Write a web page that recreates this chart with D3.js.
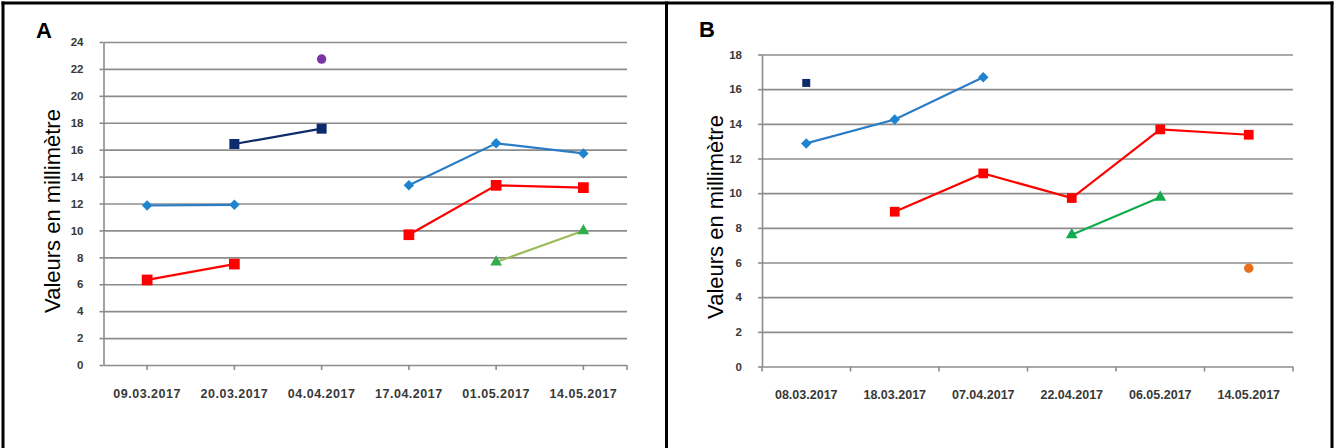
<!DOCTYPE html>
<html>
<head>
<meta charset="utf-8">
<script src="https://cdn.jsdelivr.net/npm/d3@7/dist/d3.min.js"></script>
<style>
  html, body { margin: 0; padding: 0; background: #fff; }
  svg { display: block; }
</style>
</head>
<body>
<svg id="chart" width="1339" height="448"></svg>
<script>
// ---- Panel A data ----
const datesA = ["09.03.2017", "20.03.2017", "04.04.2017", "17.04.2017", "01.05.2017", "14.05.2017"];
const yTicksA = [0, 2, 4, 6, 8, 10, 12, 14, 16, 18, 20, 22, 24];
const blueA   = [11.85, 11.9, null, 13.35, 16.47, 15.72];
const redA    = [6.32, 7.5, null, 9.68, 13.35, 13.18];
const navyA   = [null, 16.42, 17.56, null, null, null];
const purpleA = [null, null, 22.73, null, null, null];
const greenA  = [null, null, null, null, 7.65, 9.97];

// ---- Panel B data ----
const datesB = ["08.03.2017", "18.03.2017", "07.04.2017", "22.04.2017", "06.05.2017", "14.05.2017"];
const yTicksB = [0, 2, 4, 6, 8, 10, 12, 14, 16, 18];
const blueB   = [12.87, 14.25, 16.69, null, null, null];
const redB    = [null, 8.93, 11.14, 9.72, 13.68, 13.37];
const navyB   = [16.36, null, null, null, null, null];
const greenB  = [null, null, null, 7.6, 9.76, null];
const orangeB = [null, null, null, null, null, 5.67];

const yTitle = "Valeurs en millimètre";

const svg = d3.select("#chart");
const gridColor = "#8c8c8c";
const tickText = "#383838";

// Outer frame and divider between the two panels
const frame = svg.append("g").attr("stroke", "#000").attr("stroke-width", 3);
frame.append("line").attr("x1", 1.5).attr("x2", 1333.5).attr("y1", 3).attr("y2", 3);
frame.append("line").attr("x1", 3).attr("x2", 3).attr("y1", 1.5).attr("y2", 448);
frame.append("line").attr("x1", 1332).attr("x2", 1332).attr("y1", 1.5).attr("y2", 448);
frame.append("line").attr("x1", 666.5).attr("x2", 666.5).attr("y1", 1.5).attr("y2", 448);

// marker shapes: "diamond" is a square turned 45 degrees
function markerPath(shape, size) {
  if (shape === "diamond") return d3.symbol().type(d3.symbolSquare).size(size)();
  const t = { square: d3.symbolSquare, circle: d3.symbolCircle, triangle: d3.symbolTriangle }[shape];
  return d3.symbol().type(t).size(size)();
}

function drawPanel(cfg) {
  const x = d3.scaleBand().domain(cfg.dates).range([cfg.left, cfg.right]);
  const y = d3.scaleLinear().domain([0, d3.max(cfg.yTicks)]).range([cfg.bottom, cfg.top]);
  const g = svg.append("g");
  const w = cfg.right - cfg.left;

  // horizontal gridlines
  const grid = g.append("g")
    .attr("transform", `translate(${cfg.left},0)`)
    .call(d3.axisLeft(y).tickValues(cfg.yTicks).tickSize(-w).tickFormat(""));
  grid.select(".domain").remove();
  grid.selectAll("line").attr("stroke", gridColor).attr("stroke-width", 1.6);

  // y axis with outward stubs and labels
  const ya = g.append("g")
    .attr("transform", `translate(${cfg.left},0)`)
    .call(d3.axisLeft(y).tickValues(cfg.yTicks).tickSize(4).tickPadding(16).tickSizeOuter(0));
  ya.select(".domain").attr("stroke", gridColor).attr("stroke-width", 1.6);
  ya.selectAll("line").attr("stroke", gridColor).attr("stroke-width", 1.6);
  ya.selectAll("text")
    .attr("fill", tickText)
    .style("font", "bold 11.5px 'Liberation Sans', Arial, sans-serif");

  // x axis labels
  const xa = g.append("g")
    .attr("transform", `translate(0,${cfg.bottom})`)
    .call(d3.axisBottom(x).tickSize(0).tickPadding(24));
  xa.select(".domain").remove();
  xa.selectAll("text")
    .attr("fill", tickText)
    .style("font", "bold 12.5px 'Liberation Sans', Arial, sans-serif")
    .style("letter-spacing", cfg.labelSpacing + "px");

  // x tick marks: at category centres (A) or at category boundaries (B)
  let tickPos;
  if (cfg.centerTicks) {
    tickPos = cfg.dates.map(d => x(d) + x.bandwidth() / 2).concat([cfg.right]);
  } else {
    tickPos = cfg.dates.map(d => x(d)).concat([cfg.right]);
  }
  g.append("g").selectAll("line").data(tickPos).join("line")
    .attr("x1", d => d).attr("x2", d => d)
    .attr("y1", cfg.bottom).attr("y2", cfg.bottom + 5)
    .attr("stroke", gridColor).attr("stroke-width", 1.6);

  const cx = d => x(d) + x.bandwidth() / 2;

  // series
  cfg.series.forEach(s => {
    const pts = cfg.dates.map((d, i) => ({ d, v: s.values[i] }));
    const line = d3.line()
      .defined(p => p.v != null)
      .x(p => cx(p.d))
      .y(p => y(p.v));
    if (s.lineColor) {
      g.append("path")
        .datum(pts)
        .attr("fill", "none")
        .attr("stroke", s.lineColor)
        .attr("stroke-width", 2.2)
        .attr("d", line);
    }
    const rot = s.shape === "diamond" ? " rotate(45)" : "";
    g.append("g").selectAll("path")
      .data(pts.filter(p => p.v != null))
      .join("path")
      .attr("transform", p => `translate(${cx(p.d)},${y(p.v)})${rot}`)
      .attr("d", markerPath(s.shape, s.size))
      .attr("fill", s.color);
  });

  // y axis title
  g.append("text")
    .attr("transform", `translate(${cfg.titleX},${cfg.titleY}) rotate(-90)`)
    .attr("text-anchor", "middle")
    .attr("dominant-baseline", "central")
    .attr("fill", "#000")
    .style("font", "22px 'Liberation Sans', Arial, sans-serif")
    .text(yTitle);

  // panel letter
  g.append("text")
    .attr("x", cfg.letterX).attr("y", cfg.letterY)
    .attr("fill", "#000")
    .style("font", "bold 22px 'Liberation Sans', Arial, sans-serif")
    .text(cfg.letter);
}

drawPanel({
  letter: "A", letterX: 36, letterY: 38,
  dates: datesA, yTicks: yTicksA,
  left: 103.5, right: 627, top: 42, bottom: 365,
  centerTicks: true, labelSpacing: 0.5,
  titleX: 52, titleY: 211,
  series: [
    { values: blueA,   color: "#1f84d0", lineColor: "#2a7dc4", shape: "diamond",  size: 55 },
    { values: redA,    color: "#ff0000", lineColor: "#ff0000", shape: "square",   size: 115 },
    { values: navyA,   color: "#0d2b6b", lineColor: "#0d2b6b", shape: "square",   size: 100 },
    { values: purpleA, color: "#7a35a5", lineColor: null,      shape: "circle",   size: 70 },
    { values: greenA,  color: "#2fae4a", lineColor: "#9bbb59", shape: "triangle", size: 60 }
  ]
});

drawPanel({
  letter: "B", letterX: 699, letterY: 37,
  dates: datesB, yTicks: yTicksB,
  left: 762, right: 1293, top: 54.5, bottom: 366.5,
  centerTicks: false, labelSpacing: 0,
  titleX: 715, titleY: 217,
  series: [
    { values: blueB,   color: "#1f84d0", lineColor: "#2a7dc4", shape: "diamond",  size: 55 },
    { values: redB,    color: "#ff0000", lineColor: "#ff0000", shape: "square",   size: 95 },
    { values: navyB,   color: "#0d2b6b", lineColor: null,      shape: "square",   size: 64 },
    { values: greenB,  color: "#12ab4e", lineColor: "#12ab4e", shape: "triangle", size: 60 },
    { values: orangeB, color: "#e8701a", lineColor: null,      shape: "circle",   size: 70 }
  ]
});
</script>
</body>
</html>
